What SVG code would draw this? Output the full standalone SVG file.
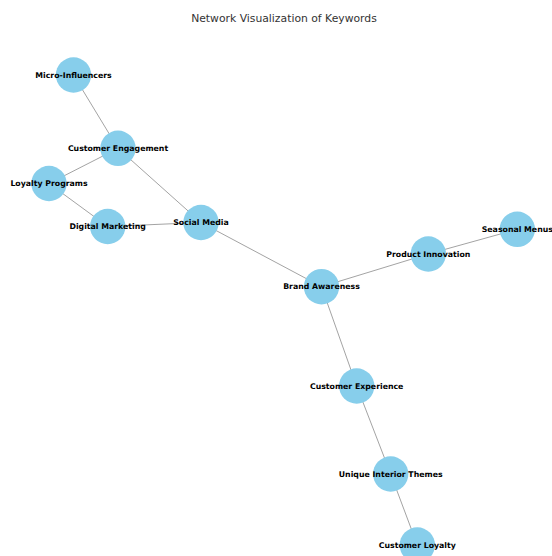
<svg xmlns="http://www.w3.org/2000/svg" width="552" height="556" viewBox="0 0 552 556">
<style>
.bg{fill:#ffffff}
.edge{stroke:#8c8c8c;stroke-width:0.8;fill:none}
.node circle{fill:#87ceeb;stroke:none}
.node text{font-family:"DejaVu Sans",sans-serif;font-weight:bold;font-size:7.8px;fill:#000;text-anchor:middle;dominant-baseline:central}
.title{font-family:"DejaVu Sans",sans-serif;font-size:10.8px;fill:#333;text-anchor:middle}
</style>
<rect class="bg" x="0" y="0" width="552" height="556"/>
<text class="title" x="284" y="22">Network Visualization of Keywords</text>
<g id="edges">
<line class="edge" x1="73.5" y1="75" x2="118" y2="148.3"/>
<line class="edge" x1="118" y1="148.3" x2="49" y2="183.5"/>
<line class="edge" x1="118" y1="148.3" x2="201" y2="222.5"/>
<line class="edge" x1="49" y1="183.5" x2="107.7" y2="226.5"/>
<line class="edge" x1="107.7" y1="226.5" x2="201" y2="222.5"/>
<line class="edge" x1="201" y1="222.5" x2="321.5" y2="286.7"/>
<line class="edge" x1="321.5" y1="286.7" x2="428.3" y2="254"/>
<line class="edge" x1="428.3" y1="254" x2="517.3" y2="229.3"/>
<line class="edge" x1="321.5" y1="286.7" x2="356.7" y2="386"/>
<line class="edge" x1="356.7" y1="386" x2="390.7" y2="474"/>
<line class="edge" x1="390.7" y1="474" x2="417.3" y2="545"/>
</g>
<g id="micro-influencers" class="node"><circle cx="73.5" cy="75" r="17.7"/><text x="73.5" y="75">Micro-Influencers</text></g>
<g id="customer-engagement" class="node"><circle cx="118" cy="148.3" r="17.7"/><text x="118" y="148.3">Customer Engagement</text></g>
<g id="loyalty-programs" class="node"><circle cx="49" cy="183.5" r="17.7"/><text x="49" y="183.5">Loyalty Programs</text></g>
<g id="digital-marketing" class="node"><circle cx="107.7" cy="226.5" r="17.7"/><text x="107.7" y="226.5">Digital Marketing</text></g>
<g id="social-media" class="node"><circle cx="201" cy="222.5" r="17.7"/><text x="201" y="222.5">Social Media</text></g>
<g id="brand-awareness" class="node"><circle cx="321.5" cy="286.7" r="17.7"/><text x="321.5" y="286.7">Brand Awareness</text></g>
<g id="product-innovation" class="node"><circle cx="428.3" cy="254" r="17.7"/><text x="428.3" y="254">Product Innovation</text></g>
<g id="seasonal-menus" class="node"><circle cx="517.3" cy="229.3" r="17.7"/><text x="517.3" y="229.3">Seasonal Menus</text></g>
<g id="customer-experience" class="node"><circle cx="356.7" cy="386" r="17.7"/><text x="356.7" y="386">Customer Experience</text></g>
<g id="unique-interior-themes" class="node"><circle cx="390.7" cy="474" r="17.7"/><text x="390.7" y="474">Unique Interior Themes</text></g>
<g id="customer-loyalty" class="node"><circle cx="417.3" cy="545" r="17.7"/><text x="417.3" y="545">Customer Loyalty</text></g>
</svg>
